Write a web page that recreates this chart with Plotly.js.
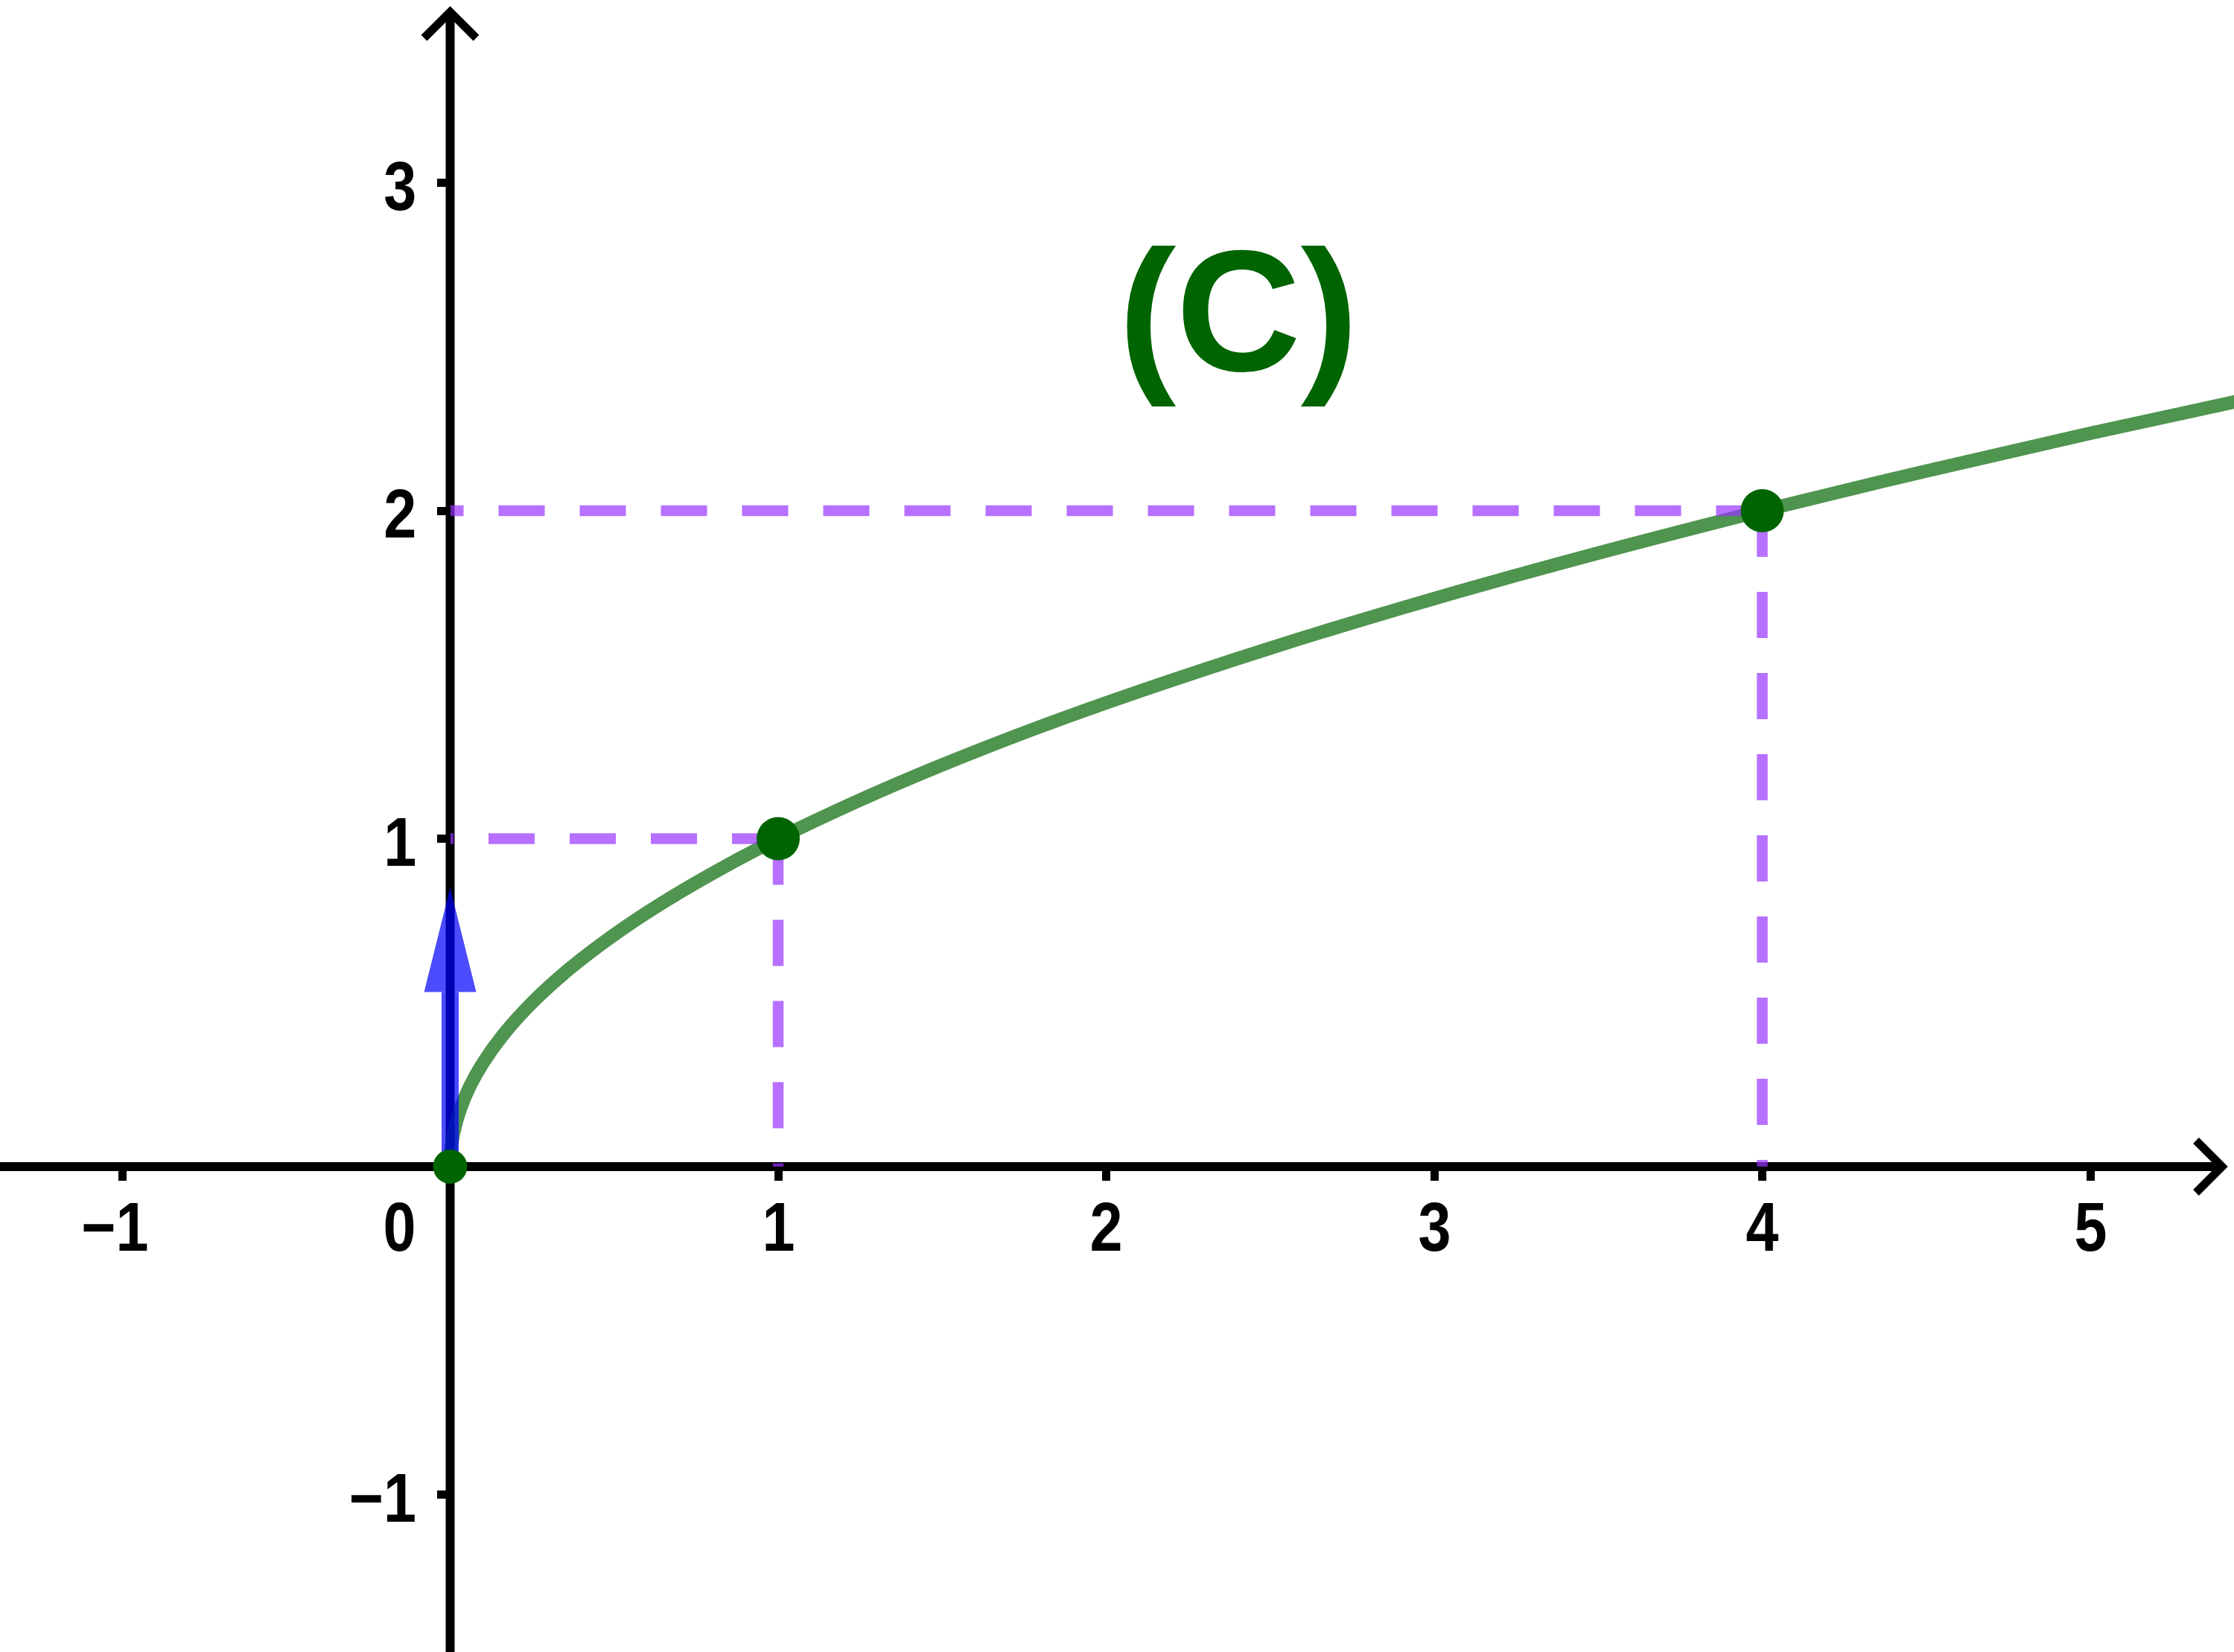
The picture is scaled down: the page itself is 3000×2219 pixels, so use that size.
<!DOCTYPE html>
<html>
<head>
<meta charset="utf-8">
<script src="https://cdn.plot.ly/plotly-3.0.1.min.js"></script>
<style>
html,body{margin:0;padding:0;background:#ffffff;}
#chart{width:3000px;height:2219px;}
</style>
</head>
<body>
<div id="chart"></div>
<script>
// ---- data ----
const curveX = [0, 0.002, 0.01, 0.03, 0.06, 0.1, 0.16, 0.25, 0.36, 0.5, 0.64, 0.81, 1, 1.25, 1.5, 1.8, 2.1, 2.5, 2.9, 3.4, 4, 4.5, 5, 5.5];
const curveY = [0, 0.045, 0.1, 0.173, 0.245, 0.316, 0.4, 0.5, 0.6, 0.707, 0.8, 0.9, 1, 1.118, 1.225, 1.342, 1.449, 1.581, 1.703, 1.844, 2, 2.121, 2.236, 2.345];
const pointX = [0, 1, 4];
const pointY = [0, 1, 2];
const vectorX = [0, 0];
const vectorY = [0, 0.85];
const xTicks = [-1, 1, 2, 3, 4, 5];
const xTickLabels = ['\u22121', '1', '2', '3', '4', '5'];
const yTicks = [-1, 1, 2, 3];
const yTickLabels = ['\u22121', '1', '2', '3'];
const originLabel = '0';
const curveLabel = '(C)';

// ---- geometry / style ----
const W = 3000, H = 2219;
const UNIT = 440.5;               // px per unit
const X0PX = 604.5, Y0PX = 1567;  // pixel position of the origin
const xRange = [-X0PX / UNIT, (W - X0PX) / UNIT];
const yRange = [-(H - Y0PX) / UNIT, Y0PX / UNIT];
const px = v => v / UNIT;         // pixel length -> data length

const purple = 'rgba(153,51,255,0.7)';
const green = 'rgba(0,100,0,0.69)';
const blue = 'rgba(0,0,255,0.7)';
const dark = '#006400';
const tickFont = {family: 'Liberation Sans, Arial, sans-serif', size: 92, color: '#000000', weight: 'bold'};
const NARROW = 0.86;

const traces = [];

// curve
traces.push({x: curveX, y: curveY, mode: 'lines', line: {color: green, width: 18, shape: 'spline', smoothing: 1}, hoverinfo: 'skip'});

// dashed guides from each non-origin point to the axes
for (let i = 0; i < pointX.length; i++) {
  if (pointX[i] === 0 && pointY[i] === 0) continue;
  traces.push({x: [pointX[i], 0], y: [pointY[i], pointY[i]], mode: 'lines',
    line: {color: purple, width: 14.5, dash: '62px,47px'}, hoverinfo: 'skip'});
  traces.push({x: [pointX[i], pointX[i]], y: [pointY[i], 0], mode: 'lines',
    line: {color: purple, width: 14.5, dash: '62px,47px'}, hoverinfo: 'skip'});
}

// vector
const headLen = px(140), headHalf = px(35);
const tipX = vectorX[1], tipY = vectorY[1];
const baseY = tipY - headLen;
traces.push({x: [vectorX[0], vectorX[0]], y: [vectorY[0], baseY], mode: 'lines',
  line: {color: blue, width: 23}, hoverinfo: 'skip'});
traces.push({x: [tipX - headHalf, tipX + headHalf, tipX, tipX - headHalf], y: [baseY, baseY, tipY, baseY],
  mode: 'lines', fill: 'toself', fillcolor: blue, line: {width: 0, color: 'rgba(0,0,0,0)'}, hoverinfo: 'skip'});

// points
traces.push({x: pointX, y: pointY, mode: 'markers',
  marker: {color: dark, opacity: 1, size: pointX.map((v, i) => (v === 0 && pointY[i] === 0) ? 46 : 58), line: {width: 0}}, hoverinfo: 'skip'});

// axis lines with open chevrons
const xTip = px(2984 - X0PX);
const yTip = px(Y0PX - 16);
const chev = px(35);
const shapes = [
  {type: 'line', xref: 'x', yref: 'y', x0: xRange[0], y0: 0, x1: xTip, y1: 0, line: {color: '#000', width: 12}, layer: 'below'},
  {type: 'line', xref: 'x', yref: 'y', x0: 0, y0: yRange[0], x1: 0, y1: yTip, line: {color: '#000', width: 12}, layer: 'below'},
  {type: 'path', xref: 'x', yref: 'y', path: `M${xTip - chev},${chev} L${xTip},0 L${xTip - chev},${-chev}`, line: {color: '#000', width: 11}, layer: 'below'},
  {type: 'path', xref: 'x', yref: 'y', path: `M${-chev},${yTip - chev} L0,${yTip} L${chev},${yTip - chev}`, line: {color: '#000', width: 11}, layer: 'below'}
];

// labels
const annotations = [];
xTicks.forEach((v, i) => annotations.push({x: v, y: 0, xref: 'x', yref: 'y', text: xTickLabels[i], showarrow: false,
  xanchor: 'center', yanchor: 'middle', xshift: v < 0 ? -10 : 0, yshift: -81, font: tickFont}));
annotations.push({x: 0, y: 0, xref: 'x', yref: 'y', text: originLabel, showarrow: false,
  xanchor: 'center', yanchor: 'middle', xshift: -68, yshift: -81, font: tickFont});
yTicks.forEach((v, i) => annotations.push({x: 0, y: v, xref: 'x', yref: 'y', text: yTickLabels[i], showarrow: false,
  xanchor: 'right', yanchor: 'middle', xshift: -44, yshift: -4, font: tickFont}));
annotations.push({x: 2.403, y: 2.61, xref: 'x', yref: 'y', text: curveLabel, showarrow: false,
  xanchor: 'center', yanchor: 'middle', font: {family: 'Liberation Sans, Arial, sans-serif', size: 232, color: dark, weight: 'bold'}});

const layout = {
  width: W, height: H,
  margin: {l: 0, r: 0, t: 0, b: 0, pad: 0},
  paper_bgcolor: '#ffffff', plot_bgcolor: '#ffffff',
  showlegend: false, hovermode: false,
  xaxis: {range: xRange, anchor: 'free', position: (0 - yRange[0]) / (yRange[1] - yRange[0]),
    tickvals: xTicks, ticks: 'outside', ticklen: 18, tickwidth: 11, tickcolor: '#000',
    showticklabels: false, showgrid: false, zeroline: false, showline: false, fixedrange: true},
  yaxis: {range: yRange, anchor: 'free', position: (0 - xRange[0]) / (xRange[1] - xRange[0]), side: 'left',
    tickvals: yTicks, ticks: 'outside', ticklen: 18, tickwidth: 11, tickcolor: '#000',
    showticklabels: false, showgrid: false, zeroline: false, showline: false, fixedrange: true},
  shapes: shapes,
  annotations: annotations
};

Plotly.newPlot('chart', traces, layout, {staticPlot: true, displayModeBar: false}).then(gd => {
  // GeoGebra-style condensed tick labels: squeeze the tick-label texts horizontally
  const nTick = annotations.length - 1;
  gd.querySelectorAll('g.annotation').forEach(g => {
    const idx = +g.getAttribute('data-index');
    if (idx >= nTick) return;
    const t = g.querySelector('text.annotation-text');
    if (!t) return;
    const bb = t.getBBox();
    const ax = annotations[idx].xanchor === 'right' ? bb.x + bb.width : bb.x + bb.width / 2;
    t.setAttribute('transform', `translate(${ax},0) scale(${NARROW},1) translate(${-ax},0)`);
  });
});
</script>
</body>
</html>
